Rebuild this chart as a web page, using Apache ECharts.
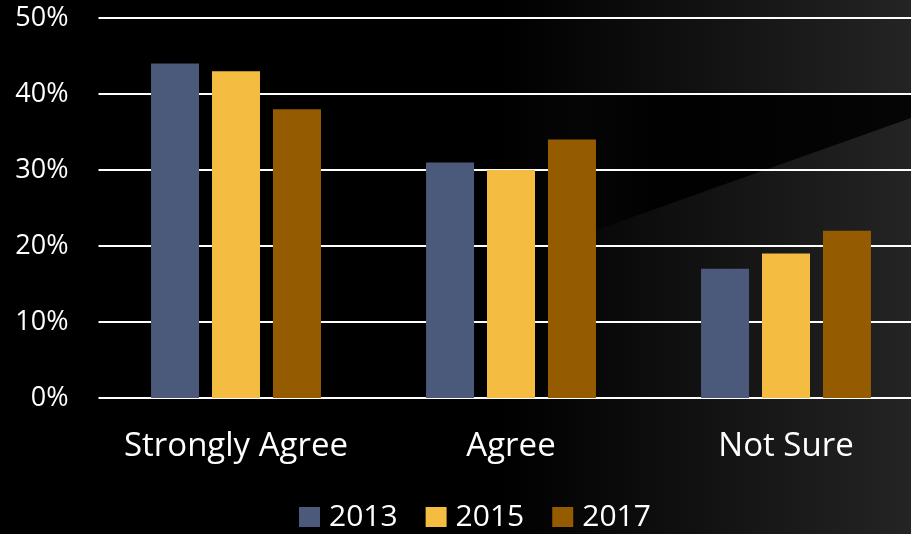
<!DOCTYPE html>
<html><head><meta charset="utf-8">
<script src="https://cdn.jsdelivr.net/npm/echarts@6/dist/echarts.min.js"></script>
<style>html,body{margin:0;padding:0;background:#000}#c{width:911px;height:534px}</style>
</head><body><div id="c"></div>
<script>
const categories = ['Strongly Agree', 'Agree', 'Not Sure'];
const seriesNames = ['2013', '2015', '2017'];
const values2013 = [44, 31, 17];
const values2015 = [43, 30, 19];
const values2017 = [38, 34, 22];
const yTicks = [0, 10, 20, 30, 40, 50];
const colors = ['#4B5A7B', '#F5BC42', '#955B00'];
const FONT = '"Open Sans", sans-serif';

const chart = echarts.init(document.getElementById('c'));
const data = [values2013, values2015, values2017];
chart.setOption({
  backgroundColor: '#000',
  animation: false,
  graphic: [
    {type: 'rect', z: -10, silent: true, shape: {x: 0, y: 0, width: 911, height: 534},
     style: {fill: new echarts.graphic.LinearGradient(0, 0, 1, 0, [
       {offset: 0, color: 'rgba(0,0,0,1)'}, {offset: 0.55, color: 'rgba(0,0,0,1)'},
       {offset: 1, color: 'rgba(36,36,36,1)'}])}},
    {type: 'polygon', z: -9, silent: true,
     shape: {points: [[540, 94], [911, 94], [911, 118], [540, 250]]},
     style: {fill: new echarts.graphic.LinearGradient(0, 0, 1, 0, [
       {offset: 0, color: 'rgba(0,0,0,0)'}, {offset: 0.3, color: 'rgba(0,0,0,0.95)'}, {offset: 1, color: 'rgba(0,0,0,0.85)'}])}}
  ],
  grid: {left: 98.5, top: 18, right: -12.5, bottom: 136, containLabel: false, outerBoundsMode: 'none'},
  legend: {
    data: seriesNames, top: 497, left: 294, itemWidth: 21, itemHeight: 20, itemGap: 28,
    textStyle: {color: '#fff', fontSize: 30, fontFamily: FONT, padding: [0, 0, 0, 4]}, icon: 'rect'
  },
  xAxis: {
    type: 'category', data: categories,
    axisLine: {show: false}, axisTick: {show: false},
    axisLabel: {color: '#fff', fontSize: 33, fontFamily: FONT, margin: 32, interval: 0}
  },
  yAxis: {
    type: 'value', min: yTicks[0], max: yTicks[yTicks.length - 1], interval: 10,
    axisLine: {show: false}, axisTick: {show: false},
    axisLabel: {color: '#fff', fontSize: 27, fontFamily: FONT, margin: 30, formatter: v => v + '%'},
    splitLine: {lineStyle: {color: '#fff', width: 2}}
  },
  series: seriesNames.map((n, i) => ({
    name: n, type: 'bar', data: data[i], barWidth: 48, barGap: '27%',
    itemStyle: {color: colors[i]}
  }))
});
</script></body></html>
